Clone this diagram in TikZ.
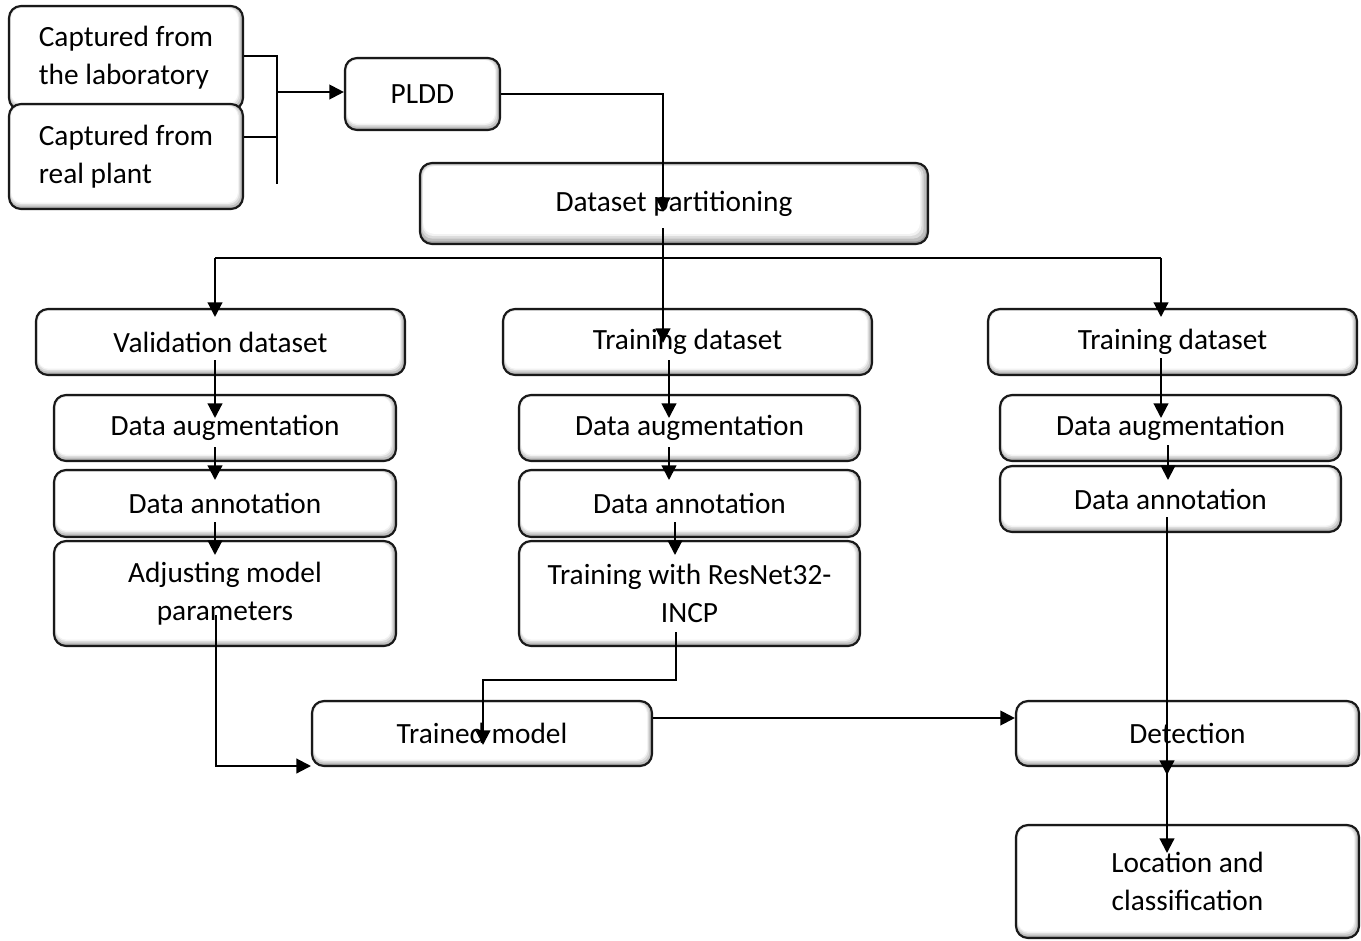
\documentclass[tikz,border=0pt]{standalone}
\usepackage{fontspec}
\setmainfont{Carlito}
\usetikzlibrary{arrows.meta}
\newcommand\mybox[7][5pt]{%
  \node[box={#1}, minimum width={(#5-#3)*0.75pt}, minimum height={(#6-#4)*0.75pt}] (#2) at ({(#3+#5)/2},{(#4+#6)/2}) {#7};}
\tikzset{
  box/.style={draw=black!90, line width=1.6pt, rounded corners=9pt, fill=gray!75,
    inner sep=0pt, align=center, font=\fontsize{22}{28.5}\selectfont,
    path picture={
      \fill[gray!50,rounded corners=8pt] ([shift={(0.08*#1,0.25*#1)}]path picture bounding box.south west) rectangle ([shift={(-0.2*#1,-0.08*#1)}]path picture bounding box.north east);
      \fill[gray!28,rounded corners=8pt] ([shift={(0.16*#1,0.5*#1)}]path picture bounding box.south west) rectangle ([shift={(-0.4*#1,-0.16*#1)}]path picture bounding box.north east);
      \fill[gray!10,rounded corners=8pt] ([shift={(0.24*#1,0.75*#1)}]path picture bounding box.south west) rectangle ([shift={(-0.6*#1,-0.24*#1)}]path picture bounding box.north east);
      \fill[white,rounded corners=8pt] ([shift={(0.3*#1,0.95*#1)}]path picture bounding box.south west) rectangle ([shift={(-0.75*#1,-0.3*#1)}]path picture bounding box.north east);
    }},
  ln/.style={line width=1.6pt, draw=black},
  arr/.style={ln, -{Triangle[length=11pt,width=11pt]}}
}
\begin{document}
\begin{tikzpicture}[x=0.75pt,y=-0.75pt]
\useasboundingbox (0,0) rectangle (1361,940);
% boxes
\mybox{lab}{9}{6}{243}{110}{\begin{tabular}{@{}l@{}}Captured from\\the laboratory\end{tabular}}
\mybox{real}{9}{104}{243}{209}{\begin{tabular}{@{}l@{}}Captured from\\real plant\end{tabular}}
\mybox{pldd}{345}{58}{500}{130}{PLDD}
\mybox[8pt]{part}{420}{163}{928}{244}{Dataset partitioning}
\mybox{val}{36}{309}{405}{375}{Validation dataset}
\mybox{augA}{54}{395}{396}{461}{Data augmentation}
\mybox{annA}{54}{470}{396}{537}{Data annotation}
\mybox{adj}{54}{541}{396}{646}{Adjusting model\\parameters}
\mybox{tdB}{503}{309}{872}{375}{Training dataset}
\mybox{augB}{519}{395}{860}{461}{Data augmentation}
\mybox{annB}{519}{470}{860}{537}{Data annotation}
\mybox{res}{519}{541}{860}{646}{Training with ResNet32-\\INCP}
\mybox{tdC}{988}{309}{1357}{375}{Training dataset}
\mybox{augC}{1000}{395}{1341}{461}{Data augmentation}
\mybox{annC}{1000}{466}{1341}{532}{Data annotation}
\mybox{trained}{312}{701}{652}{766}{Trained model}
\mybox{det}{1016}{701}{1359}{766}{Detection}
\mybox{loc}{1016}{825}{1359}{938}{Location and\\classification}
% coordinates
\coordinate (bt) at (277,56);
\coordinate (bb) at (277,184);
\coordinate (bj) at (277,137);
\coordinate (bm) at (277,92);
\coordinate (p1) at (663,212);
\coordinate (p2) at (663,228);
\coordinate (t2) at (663,343);
\coordinate (hl) at (215,258);
\coordinate (hr) at (1161,258);
\coordinate (tv) at (215,317);
\coordinate (tr) at (1161,317);
\coordinate (a1s) at (215,360); \coordinate (a1e) at (215,418);
\coordinate (a2s) at (215,447); \coordinate (a2e) at (215,480);
\coordinate (a3s) at (215,522); \coordinate (a3e) at (215,555);
\coordinate (a4s) at (216,615); \coordinate (a4c) at (216,766); \coordinate (a4e) at (311,766);
\coordinate (m1s) at (669,360); \coordinate (m1e) at (669,418);
\coordinate (m2s) at (669,447); \coordinate (m2e) at (669,480);
\coordinate (m3s) at (675,522); \coordinate (m3e) at (675,555);
\coordinate (m4s) at (676,632); \coordinate (m4c) at (676,680); \coordinate (m4d) at (483,680); \coordinate (m4e) at (483,745);
\coordinate (r1s) at (1161,358); \coordinate (r1e) at (1161,418);
\coordinate (r2s) at (1168,445); \coordinate (r2e) at (1168,480);
\coordinate (r3s) at (1167,517); \coordinate (r3e) at (1167,775);
\coordinate (r4s) at (1167,768); \coordinate (r4e) at (1167,853);
\coordinate (ty) at (0,718);
% connectors
\draw[ln] (lab.east |- bt) -- (bt) -- (bb);
\draw[ln] (real.east |- bj) -- (bj);
\draw[arr] (bm) -- (pldd.west |- bm);
\draw[arr] (pldd.east) -| (p1);
\draw[arr] (p2) -- (t2);
\draw[ln] (hl) -- (hr);
\draw[arr] (hl) -- (tv);
\draw[arr] (hr) -- (tr);
\draw[arr] (a1s) -- (a1e);
\draw[arr] (a2s) -- (a2e);
\draw[arr] (a3s) -- (a3e);
\draw[arr] (a4s) -- (a4c) -- (a4e);
\draw[arr] (m1s) -- (m1e);
\draw[arr] (m2s) -- (m2e);
\draw[arr] (m3s) -- (m3e);
\draw[arr] (m4s) -- (m4c) -- (m4d) -- (m4e);
\draw[arr] (r1s) -- (r1e);
\draw[arr] (r2s) -- (r2e);
\draw[arr] (r3s) -- (r3e);
\draw[arr] (r4s) -- (r4e);
\draw[arr] (trained.east |- ty) -- (det.west |- ty);
\end{tikzpicture}
\end{document}
